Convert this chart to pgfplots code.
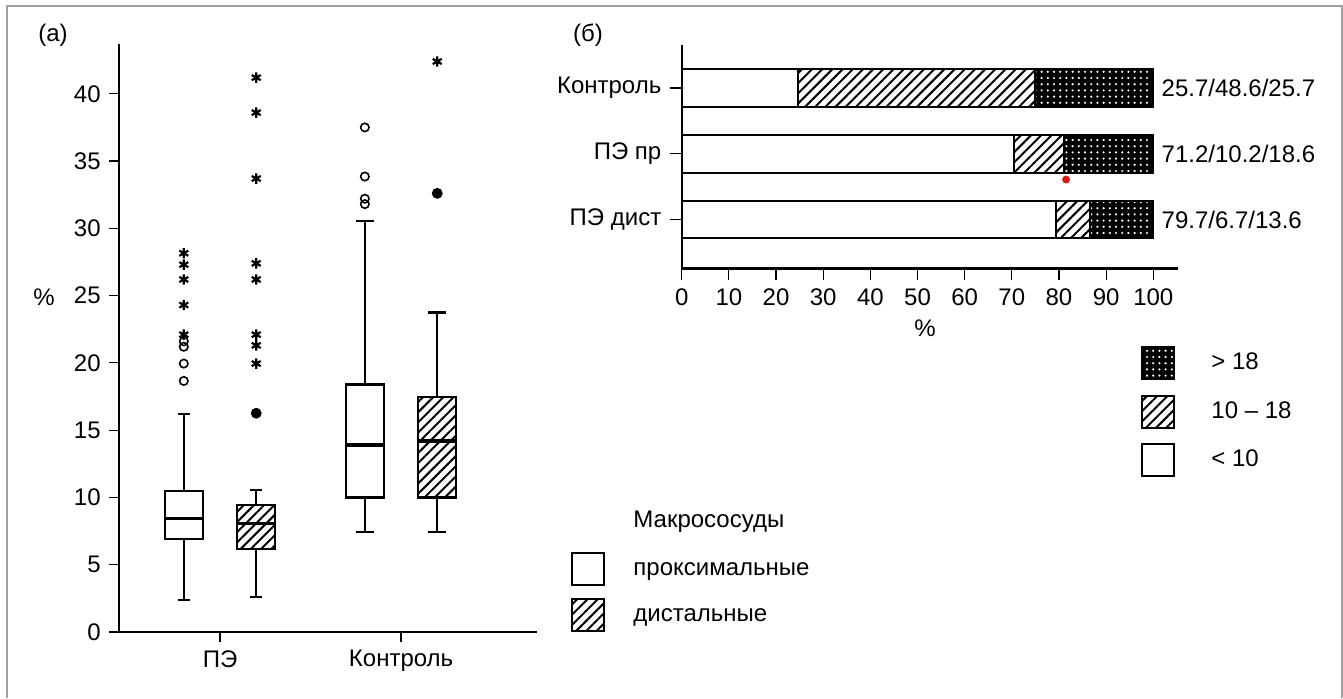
\documentclass[border=0pt]{standalone}
\usepackage{fontspec}
\setmainfont{Liberation Sans}
\usepackage{pgfplots}
\pgfplotsset{compat=1.18}
\usepgfplotslibrary{statistics}
\usetikzlibrary{patterns.meta}

\definecolor{framegray}{RGB}{160,160,160}
\definecolor{dotred}{RGB}{225,20,20}

\tikzset{
  hatch/.style={pattern={Lines[angle=45,distance=3.6pt,line width=1pt]}},
  dotsbl/.style={preaction={fill=black},pattern={Dots[distance=3.1pt,radius=0.6pt]},pattern color=white},
}

\begin{document}
\fontsize{12pt}{14pt}\selectfont
\begin{tikzpicture}
\path[use as bounding box] (0,0) rectangle (671.5pt,349pt);
\draw[framegray,line width=1pt] (3.5pt,0) -- (3.5pt,346pt) -- (671pt,346pt) -- (671pt,0);

% (а) box plots
\begin{axis}[
  at={(59.5pt,33pt)}, anchor=south west,
  scale only axis, width=209pt, height=294pt,
  xmin=0.442, xmax=2.751, ymin=0, ymax=43.7,
  axis x line*=bottom, axis y line*=left,
  axis line style={-,line width=1.4pt},
  tick align=outside, major tick length=5pt,
  tick style={black,line width=0.6pt},
  xtick={1,2}, xticklabels={ПЭ,Контроль},
  ytick={0,5,...,40},
  /pgf/number format/assume math mode=true,
  boxplot/draw direction=y,
  boxplot/every median/.style={line width=1.6pt},
  clip=false,
]
% proximal, ПЭ
\addplot[black,line width=1.1pt,mark=none,
  boxplot/draw direction=y,
  boxplot/whisker extend=0.065,
  boxplot prepared={draw position=0.8,median=8.45,lower quartile=6.89,upper quartile=10.5,
    lower whisker=2.4,upper whisker=16.2,box extend=0.21}] coordinates {};
% distal, ПЭ
\addplot[black,line width=1.1pt,mark=none,
  boxplot/draw direction=y,
  boxplot/whisker extend=0.065,
  boxplot/every box/.append style={hatch},
  boxplot prepared={draw position=1.2,median=8.08,lower quartile=6.15,upper quartile=9.44,
    lower whisker=2.6,upper whisker=10.53,box extend=0.21}] coordinates {};
% proximal, Контроль
\addplot[black,line width=1.1pt,mark=none,
  boxplot/draw direction=y,
  boxplot/whisker extend=0.1,
  boxplot prepared={draw position=1.8,median=13.9,lower quartile=10.0,upper quartile=18.4,
    lower whisker=7.43,upper whisker=30.56,box extend=0.21}] coordinates {};
% distal, Контроль
\addplot[black,line width=1.1pt,mark=none,
  boxplot/draw direction=y,
  boxplot/whisker extend=0.1,
  boxplot/every box/.append style={hatch},
  boxplot prepared={draw position=2.2,median=14.2,lower quartile=10.0,upper quartile=17.45,
    lower whisker=7.46,upper whisker=23.74,box extend=0.21}] coordinates {};

% outliers
\addplot[only marks,mark=o,mark size=2.1pt,black,line width=0.8pt] coordinates {
  (0.8,18.66) (0.8,19.95) (0.8,21.2) (0.8,21.6)
  (1.8,31.8) (1.8,32.2) (1.8,33.85) (1.8,37.5)
};
\addplot[only marks,mark=asterisk,mark size=2.6pt,black,line width=1.1pt] coordinates {
  (0.8,22.1) (0.8,24.3) (0.8,26.2) (0.8,27.3) (0.8,28.15)
  (1.2,19.95) (1.2,21.3) (1.2,22.1) (1.2,26.2) (1.2,27.4) (1.2,33.7) (1.2,38.6) (1.2,41.2)
  (2.2,42.4)
};
\addplot[only marks,mark=*,mark size=2.5pt,black] coordinates {
  (1.2,16.26) (2.2,32.6)
};
\end{axis}

% (б) stacked bars
\begin{axis}[
  at={(340.85pt,214.85pt)}, anchor=south west,
  scale only axis, width=248.3pt, height=111.65pt,
  xmin=0, xmax=105.3, ymin=0.262, ymax=3.653,
  xbar stacked, bar width=18.65pt,
  axis x line*=bottom, axis y line*=left,
  axis line style={-,line width=1.2pt},
  tick align=outside, major tick length=6pt,
  tick style={black,line width=0.6pt},
  xtick={0,10,...,100},
  ytick={1,2,3}, yticklabels={ПЭ дист,ПЭ пр,Контроль},
  /pgf/number format/assume math mode=true,
  clip=false,
]
\addplot[draw=black,line width=1pt,fill=white] coordinates {(79.4,1) (70.4,2) (24.6,3)};
\addplot[draw=black,line width=1pt,hatch] coordinates {(7.1,1) (10.7,2) (50.4,3)};
\addplot[draw=black,line width=1pt,dotsbl] coordinates {(13.5,1) (18.9,2) (25.0,3)};
\node[anchor=west] at (axis cs:100,3) {25.7/48.6/25.7};
\node[anchor=west] at (axis cs:100,2) {71.2/10.2/18.6};
\node[anchor=west] at (axis cs:100,1) {79.7/6.7/13.6};
\end{axis}

% red dot
\begin{axis}[
  at={(340.85pt,214.85pt)}, anchor=south west,
  scale only axis, width=248.3pt, height=111.65pt,
  xmin=0, xmax=105.3, ymin=0.262, ymax=3.653,
  hide axis, clip=false,
]
\addplot[only marks,mark=*,mark size=1.75pt,dotred] coordinates {(81.5,1.61)};
\end{axis}

% labels
\node at (26.5pt,331.5pt) {(а)};
\node at (294pt,331.5pt) {(б)};
\node at (22pt,200.5pt) {\%};
\node at (462.5pt,185pt) {\%};

% legend (а)
\node[anchor=mid west,inner sep=0pt] at (316.5pt,88.5pt) {Макрососуды};
\draw[line width=1pt,fill=white] (286.2pt,56.5pt) rectangle (302.2pt,72.5pt);
\node[anchor=mid west,inner sep=0pt] at (316.5pt,64.5pt) {проксимальные};
\draw[line width=1pt,hatch] (286.2pt,33.5pt) rectangle (302.2pt,49.5pt);
\node[anchor=mid west,inner sep=0pt] at (316.5pt,41.5pt) {дистальные};

% legend (б)
\draw[line width=1pt,dotsbl] (570.85pt,159.4pt) rectangle (587pt,175.6pt);
\node[anchor=mid west,inner sep=0pt] at (605.5pt,167.5pt) {> 18};
\draw[line width=1pt,hatch] (570.85pt,134.9pt) rectangle (587pt,151.1pt);
\node[anchor=mid west,inner sep=0pt] at (605.5pt,143pt) {10 – 18};
\draw[line width=1pt,fill=white] (570.85pt,110.9pt) rectangle (587pt,127.1pt);
\node[anchor=mid west,inner sep=0pt] at (605.5pt,119pt) {< 10};
\end{tikzpicture}
\end{document}
